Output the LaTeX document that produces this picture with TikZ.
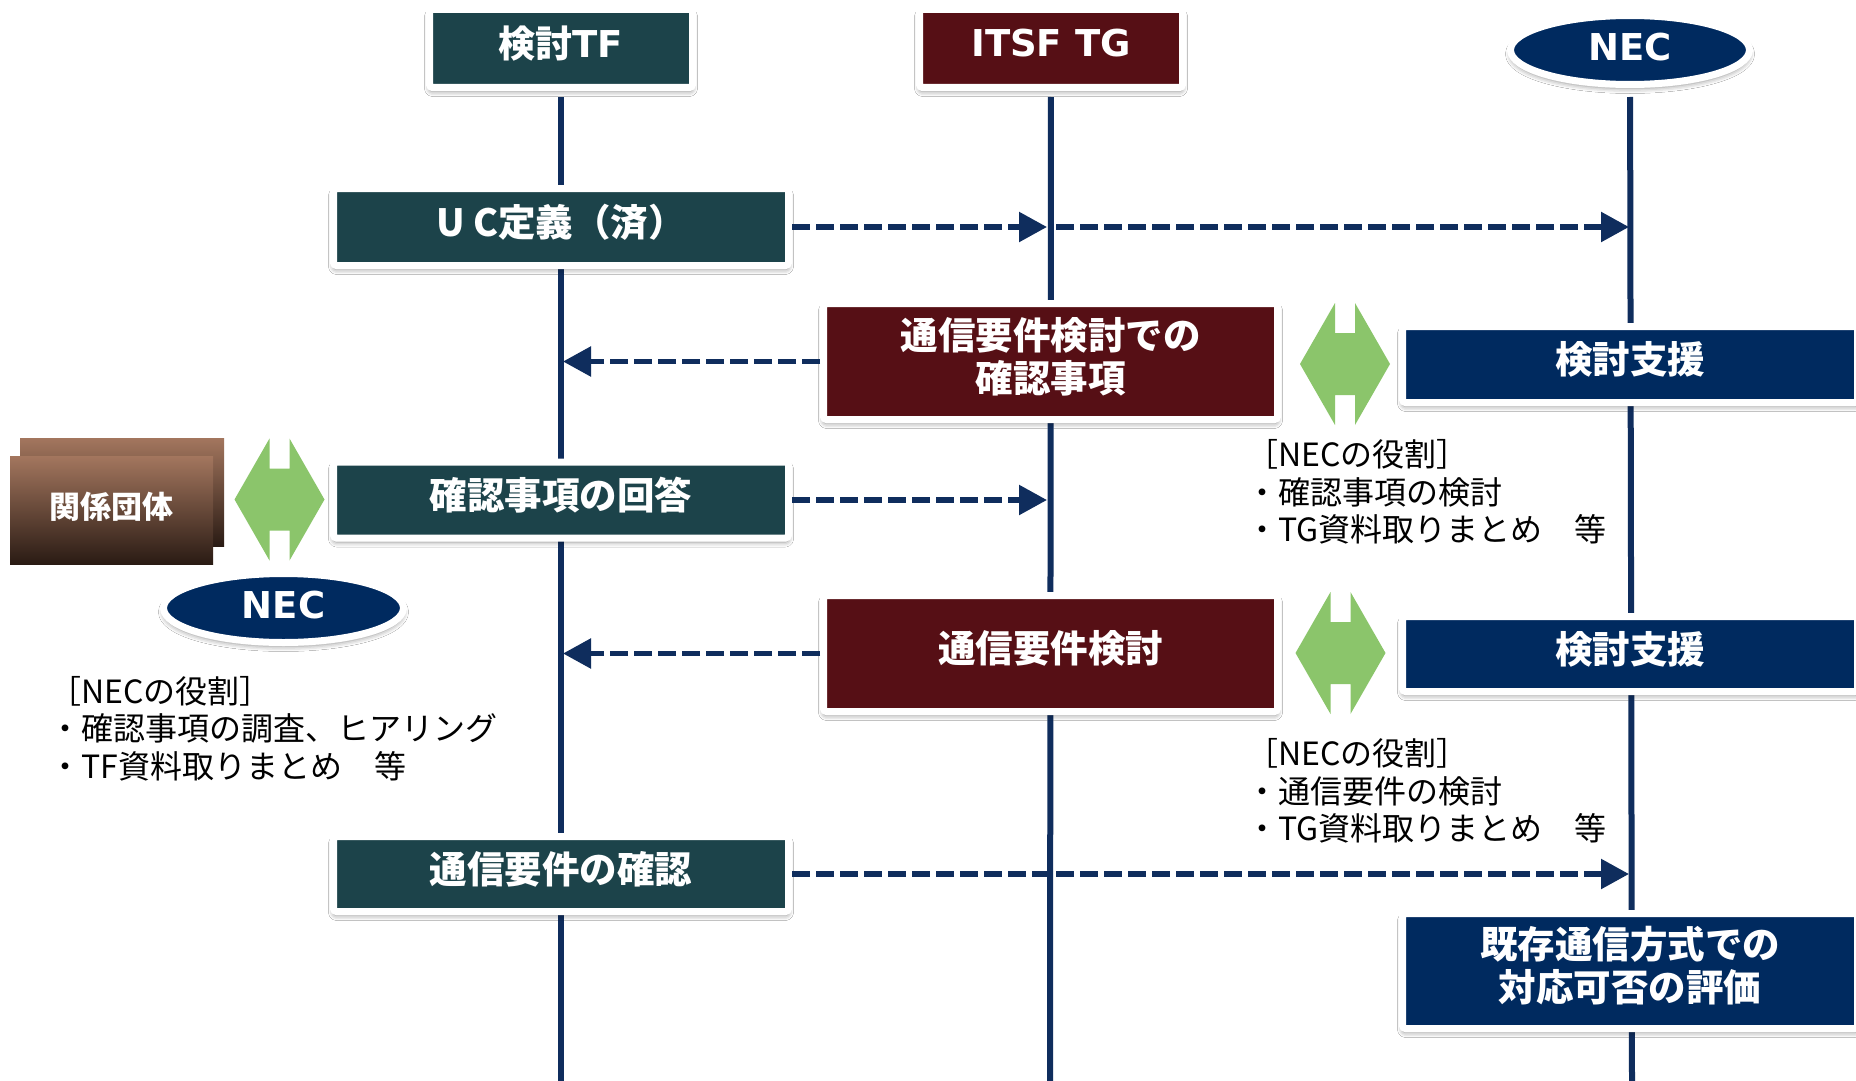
\documentclass[tikz,border=0pt]{standalone}
\usepackage{fontspec}
\setmainfont{Noto Sans CJK JP}
\newfontfamily\cjkf{Noto Sans CJK JP}
\newfontfamily\latf{DejaVu Sans}
\usetikzlibrary{arrows.meta,shapes.geometric,shadows.blur,backgrounds}
\definecolor{tfcol}{HTML}{1C434A}
\definecolor{tgcol}{HTML}{560F15}
\definecolor{neccol}{HTML}{002A5F}
\definecolor{linecol}{HTML}{0F2D5D}
\definecolor{dblgreen}{HTML}{8BC56B}
\definecolor{brtop}{HTML}{A3765E}
\definecolor{brmid}{HTML}{432E25}
\definecolor{brbot}{HTML}{2A1B14}
\newcommand\boxfnt{\cjkf\bfseries\fontsize{37.5}{43}\selectfont}
\newcommand\headfnt{\latf\bfseries\fontsize{37}{42}\selectfont}
\newcommand\rolefnt{\cjkf\fontsize{32}{37.5}\selectfont}
\tikzset{
  softshadow/.style={blur shadow={shadow xshift=0pt,shadow yshift=-4pt,shadow blur radius=5pt,shadow opacity=45}},
  lbl/.style={text=white,align=center,inner sep=0pt,yshift=5pt},
  frm/.style={draw=white,line width=7pt,rounded corners=3pt,inner sep=0pt,softshadow},
  tfbox/.style={frm,fill=tfcol,label={[lbl,font=\boxfnt]center:{#1}}},
  tgbox/.style={frm,fill=tgcol,label={[lbl,font=\boxfnt]center:{#1}}},
  necbox/.style={frm,fill=neccol,label={[lbl,font=\boxfnt]center:{#1}}},
  tfhead/.style={frm,fill=tfcol,label={[lbl,font=\headfnt]center:{#1}}},
  tghead/.style={frm,fill=tgcol,label={[lbl,font=\headfnt]center:{#1}}},
  necoval/.style={ellipse,draw=white,line width=7pt,fill=neccol,inner sep=0pt,softshadow,label={[lbl,yshift=-2pt,font=\headfnt]center:{#1}}},
  life/.style={draw=linecol,line width=6pt},
  msg/.style={draw=linecol,line width=5.5pt,dash pattern=on 18pt off 6pt,-{Triangle[length=28pt,width=29pt]}},
  roletext/.style={align=left,inner sep=0pt,anchor=west,font=\rolefnt,text=black},
  relbox/.style={inner sep=0pt,top color=brtop,middle color=brmid,bottom color=brbot},
  dblarrow/.pic={
    \fill[dblgreen] (-45,0) -- (-10,-61) -- (-10,-31) -- (10,-31) -- (10,-61) -- (45,0)
      -- (10,61) -- (10,31) -- (-10,31) -- (-10,61) -- cycle;
  }
}
\begin{document}
\begin{tikzpicture}[x=1pt,y=-1pt]
\useasboundingbox (0,0) rectangle (1856,1081);

% headers
\node[tfhead={{\cjkf\bfseries 検討}TF},minimum width=263pt,minimum height=78pt] (tfh) at (561,48.5) {};
\node[tghead={ITSF TG},minimum width=263pt,minimum height=78pt] (tgh) at (1051,48.5) {};
\node[necoval={NEC},minimum width=239pt,minimum height=69pt] (nech) at (1630,50) {};

% TF boxes
\node[tfbox={U C定義（済）},minimum width=455pt,minimum height=77pt] (uc) at (561,227) {};
\node[tfbox={確認事項の回答},minimum width=455pt,minimum height=76pt] (ans) at (561,500) {};
\node[tfbox={通信要件の確認},minimum width=455pt,minimum height=75pt] (conf) at (561,874) {};

% TG boxes
\node[tgbox={通信要件検討での\\確認事項},minimum width=454pt,minimum height=116pt] (tg1) at (1050.5,361.5) {};
\node[tgbox={通信要件検討},minimum width=454pt,minimum height=116pt] (tg2) at (1050.5,653.5) {};

% NEC boxes
\node[necbox={検討支援},minimum width=455pt,minimum height=76pt] (sup1) at (1630,364.5) {};
\node[necbox={検討支援},minimum width=455pt,minimum height=75pt] (sup2) at (1630,654) {};
\node[necbox={既存通信方式での\\対応可否の評価},minimum width=455pt,minimum height=115pt] (eval) at (1630,971) {};

% related bodies
\node[relbox,minimum width=204pt,minimum height=108pt] (rel2) at (122,492) {};
\node[relbox,minimum width=203pt,minimum height=108pt,
      label={[lbl,font=\cjkf\bfseries\fontsize{31}{37}\selectfont,yshift=-2pt]center:関係団体}] (rel1) at (111.5,510) {};

% left NEC
\node[necoval={NEC},minimum width=240pt,minimum height=69pt] (necl) at (283.5,608) {};

% double arrows
\pic (g1) at (279.5,499.5) {dblarrow};
\pic (g2) at (1345,364) {dblarrow};
\pic (g3) at (1340.5,653) {dblarrow};

% role texts
\node[roletext] (role1) at (49,728.5) {［NECの役割］\\・確認事項の調査、ヒアリング\\・TF資料取りまとめ　等};
\node[roletext] (role2) at (1246,492) {［NECの役割］\\・確認事項の検討\\・TG資料取りまとめ　等};
\node[roletext] (role3) at (1246,791) {［NECの役割］\\・通信要件の検討\\・TG資料取りまとめ　等};

% lifeline coordinates
\coordinate (tfEnd) at (561,1081);
\coordinate (tgEnd) at (1050,1081);
\coordinate (necEnd) at (1632,1081);
\coordinate (tgA) at (1047,227);
\coordinate (tgA2) at (1056,227);
\coordinate (necA) at (1629,227);
\coordinate (tfB) at (563,361.5);
\coordinate (tgC) at (1047,500);
\coordinate (tfD) at (563,653.5);
\coordinate (necE) at (1629,874);

\begin{scope}[on background layer]
  \fill[white] (0,0) rectangle (1856,1081);
  \draw[life,shorten <=6pt] (tfh) -- (tfEnd);
  \draw[life,shorten <=6pt] (tgh) -- (tgEnd);
  \draw[life,shorten <=9pt] (nech) -- (necEnd);
\end{scope}

% messages
\draw[msg] (uc) -- (tgA);
\draw[msg] (tgA2) -- (necA);
\draw[msg] (tg1) -- (tfB);
\draw[msg] (ans) -- (tgC);
\draw[msg] (tg2) -- (tfD);
\draw[msg] (conf) -- (necE);
\end{tikzpicture}
\end{document}
